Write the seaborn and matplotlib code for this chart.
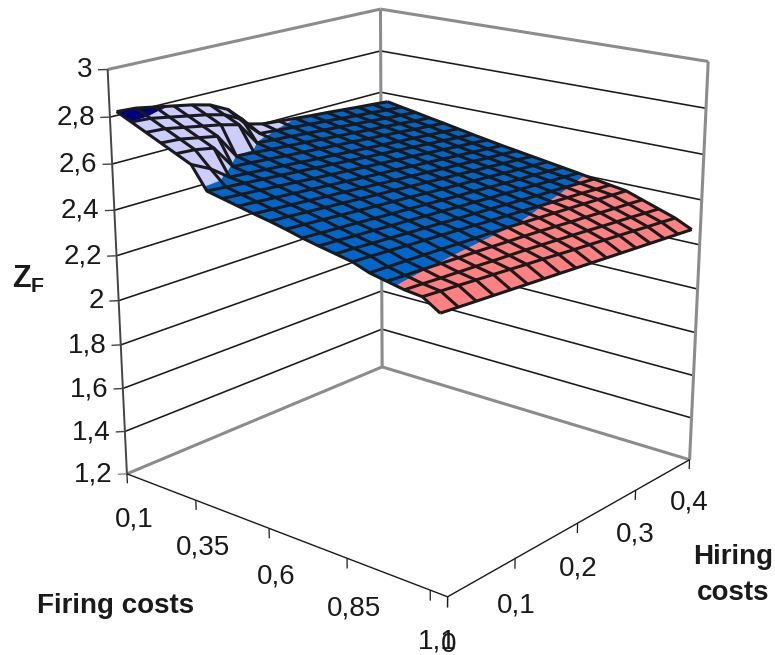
import numpy as np
import seaborn as sns
import matplotlib
matplotlib.use('Agg')
import matplotlib.pyplot as plt
from mpl_toolkits.mplot3d.art3d import Poly3DCollection

# ---- data ----
firing_costs = [0.10, 0.15, 0.20, 0.25, 0.30, 0.35, 0.40, 0.45, 0.50, 0.55, 0.60,
                0.65, 0.70, 0.75, 0.80, 0.85, 0.90, 0.95, 1.00, 1.05, 1.10]
hiring_costs = [0.000, 0.025, 0.050, 0.075, 0.100, 0.125, 0.150, 0.175, 0.200,
                0.225, 0.250, 0.275, 0.300, 0.325, 0.350, 0.375, 0.400]
z_f = [
 [2.830,2.825,2.810,2.795,2.780,2.760,2.720,2.635,2.615,2.607,2.600,2.593,2.587,2.580,2.573,2.567,2.560],
 [2.800,2.795,2.780,2.765,2.750,2.730,2.690,2.606,2.599,2.593,2.586,2.580,2.573,2.566,2.560,2.553,2.547],
 [2.770,2.765,2.750,2.735,2.720,2.700,2.599,2.592,2.586,2.579,2.573,2.567,2.560,2.554,2.547,2.541,2.535],
 [2.740,2.735,2.720,2.705,2.598,2.592,2.585,2.579,2.573,2.566,2.560,2.554,2.547,2.541,2.535,2.528,2.522],
 [2.710,2.705,2.690,2.590,2.584,2.578,2.571,2.565,2.559,2.553,2.547,2.541,2.535,2.529,2.522,2.516,2.510],
 [2.680,2.640,2.582,2.576,2.570,2.564,2.557,2.551,2.545,2.539,2.533,2.527,2.521,2.515,2.509,2.503,2.497],
 [2.585,2.579,2.572,2.566,2.560,2.554,2.547,2.541,2.535,2.528,2.522,2.516,2.509,2.503,2.497,2.490,2.484],
 [2.570,2.564,2.558,2.552,2.546,2.539,2.533,2.527,2.521,2.515,2.509,2.503,2.497,2.491,2.484,2.478,2.472],
 [2.555,2.549,2.543,2.537,2.531,2.525,2.519,2.513,2.507,2.502,2.496,2.490,2.484,2.478,2.472,2.466,2.460],
 [2.540,2.534,2.529,2.523,2.517,2.512,2.506,2.500,2.494,2.489,2.483,2.477,2.472,2.466,2.460,2.455,2.449],
 [2.526,2.521,2.515,2.510,2.504,2.499,2.493,2.488,2.482,2.477,2.471,2.466,2.460,2.455,2.449,2.444,2.438],
 [2.510,2.505,2.500,2.494,2.489,2.484,2.479,2.474,2.468,2.463,2.458,2.453,2.448,2.442,2.437,2.432,2.427],
 [2.492,2.487,2.483,2.478,2.473,2.468,2.464,2.459,2.454,2.449,2.445,2.440,2.435,2.430,2.426,2.421,2.416],
 [2.477,2.473,2.468,2.464,2.459,2.455,2.450,2.446,2.441,2.437,2.432,2.428,2.423,2.419,2.414,2.410,2.405],
 [2.463,2.459,2.454,2.450,2.445,2.441,2.437,2.432,2.428,2.424,2.419,2.415,2.410,2.406,2.402,2.397,2.393],
 [2.449,2.445,2.441,2.436,2.432,2.428,2.424,2.419,2.415,2.411,2.407,2.402,2.398,2.394,2.390,2.385,2.381],
 [2.423,2.4205,2.418,2.4155,2.413,2.4095,2.407,2.4045,2.402,2.398,2.394,2.390,2.386,2.382,2.378,2.374,2.370],
 [2.408,2.4045,2.402,2.3985,2.395,2.3925,2.389,2.3855,2.382,2.378,2.373,2.368,2.364,2.359,2.354,2.350,2.345],
 [2.393,2.3895,2.385,2.3815,2.378,2.3735,2.370,2.3665,2.362,2.357,2.352,2.347,2.341,2.336,2.331,2.325,2.320],
 [2.385,2.379,2.374,2.368,2.363,2.357,2.351,2.346,2.340,2.334,2.329,2.323,2.318,2.312,2.306,2.301,2.295],
 [2.340,2.335,2.330,2.325,2.320,2.315,2.310,2.305,2.300,2.295,2.290,2.285,2.280,2.275,2.270,2.265,2.260],
]
z_ticks = [1.2, 1.4, 1.6, 1.8, 2.0, 2.2, 2.4, 2.6, 2.8, 3.0]
z_labels = ['1,2', '1,4', '1,6', '1,8', '2', '2,2', '2,4', '2,6', '2,8', '3']
firing_ticks = [0.1, 0.35, 0.6, 0.85, 1.1]
firing_labels = ['0,1', '0,35', '0,6', '0,85', '1,1']
hiring_ticks = [0.0, 0.1, 0.2, 0.3, 0.4]
hiring_labels = ['0', '0,1', '0,2', '0,3', '0,4']
band_edges = [2.2, 2.4, 2.6, 2.8, 3.0]
band_colors = ['#FF8080', '#0066CC', '#CCCCFF', '#000080']

sns.set_theme(style='white')
plt.rcParams['font.family'] = ['Liberation Sans', 'DejaVu Sans']
plt.rcParams['mathtext.fontset'] = 'custom'
plt.rcParams['mathtext.bf'] = 'Liberation Sans:bold'
palette = sns.color_palette(band_colors)

W, H = 775, 655
fig = plt.figure(figsize=(W / 100, H / 100), dpi=100)
ax = fig.add_axes([52.17 / W, 23.99 / H, 697.92 / W, 697.93 / H], projection='3d')
ax.computed_zorder = False
ax.patch.set_alpha(0)
half = 0.025
x0, x1 = firing_costs[0] - half, firing_costs[-1] + half
y0, y1 = hiring_costs[0], hiring_costs[-1]
z0, z1 = z_ticks[0], z_ticks[-1]
ax.view_init(18.19519, -50.05517)
ax.set_proj_type('persp', focal_length=0.53626)
ax.set_box_aspect((0.83964, 0.79688, 0.83913))

def set_lims():
    ax.set_xlim(x0, x1, view_margin=0)
    ax.set_ylim(y0, y1, view_margin=0)
    ax.set_zlim(z0, z1, view_margin=0)

set_lims()
GREY = '#8C8C8C'

def line(xs, ys, zs, color='k', lw=1.0, zorder=1):
    ax.plot(xs, ys, zs, color=color, lw=lw, zorder=zorder, solid_capstyle='butt')

# walls
for z in z_ticks[1:-1]:
    line([x0, x0], [y0, y1], [z, z], lw=1.15)
    line([x0, x1], [y1, y1], [z, z], lw=1.15)
line([x0, x0], [y1, y1], [z0, z1], GREY, 2.2)
line([x1, x1], [y1, y1], [z0, z1], GREY, 2.2)
line([x0, x0], [y0, y1], [z1, z1], GREY, 2.2)
line([x0, x1], [y1, y1], [z1, z1], GREY, 2.2)
line([x0, x0], [y0, y1], [z0, z0], GREY, 2.2)
line([x0, x1], [y1, y1], [z0, z0], GREY, 2.2)
# axes in front
line([x0, x0], [y0, y0], [z0, z1], '#444444', 1.4, 2)
line([x0, x1], [y0, y0], [z0, z0], 'k', 1.0, 2)
line([x1, x1], [y0, y1], [z0, z0], 'k', 1.0, 2)
for z, lab in zip(z_ticks, z_labels):
    line([x0 - 0.0155, x0], [y0 - 0.0068, y0], [z, z], '#444444' if z > z0 else GREY, 1.0, 2)
    ax.text(x0 - 0.024, y0 - 0.0105, z, lab, ha='right', va='center', fontsize=20, color='k')
tick_drop = 0.045
for f, lab in zip(firing_ticks, firing_labels):
    xt = f - half
    line([xt, xt], [y0, y0], [z0, z0 - tick_drop], 'k', 0.9, 2)
    ax.text(xt + 0.02, y0, z0 - 0.21, lab, ha='center', va='center', fontsize=20, color='k')
line([x1, x1], [y0, y0], [z0, z0 - tick_drop], 'k', 0.9, 2)
for h, lab in zip(hiring_ticks, hiring_labels):
    line([x1, x1], [h, h], [z0, z0 - tick_drop], 'k', 0.9, 2)
    ax.text(x1 + 0.005, h, z0 - 0.205, lab, ha='center', va='center', fontsize=20, color='k')

# surface: every cell is split along the value bands
Z = np.array(z_f)
FF, HH = np.meshgrid(firing_costs, hiring_costs, indexing='ij')

def clip(poly, level, keep_above):
    out = []
    n = len(poly)
    for k in range(n):
        a, b = poly[k], poly[(k + 1) % n]
        ina = a[2] >= level if keep_above else a[2] <= level
        inb = b[2] >= level if keep_above else b[2] <= level
        if ina:
            out.append(a)
        if ina != inb:
            t = (level - a[2]) / (b[2] - a[2])
            out.append(a + t * (b - a))
    return out

polys, cols = [], []
for i in range(Z.shape[0] - 1):
    for j in range(Z.shape[1] - 1):
        quad = [np.array([FF[a, b], HH[a, b], Z[a, b]])
                for a, b in ((i, j), (i + 1, j), (i + 1, j + 1), (i, j + 1))]
        for c, lo, hi in zip(palette, band_edges[:-1], band_edges[1:]):
            p = clip(quad, lo, True)
            if len(p) >= 3:
                p = clip(p, hi, False)
            if len(p) >= 3:
                polys.append(np.array(p))
                cols.append(c)
coll = Poly3DCollection(polys, facecolors=cols, edgecolors=cols, linewidths=0.3, zorder=3)
ax.add_collection3d(coll)
ax.plot_wireframe(FF, HH, Z, rstride=1, cstride=1, color='k', linewidth=2.2, zorder=4)

set_lims()
ax.set_axis_off()

fig.text(115.6 / W, 1 - 606 / H, 'Firing costs', ha='center', va='center', fontsize=20, fontweight='bold', color='k')
fig.text(733 / W, 1 - 575.5 / H, 'Hiring\ncosts', ha='center', va='center', fontsize=20, fontweight='bold', color='k', linespacing=1.5)
fig.text(12 / W, 1 - 279 / H, r'$\mathbf{Z}_{\mathbf{F}}$', ha='left', va='center', fontsize=22, color='k')
fig.savefig('out.png', dpi=100, facecolor='white')
